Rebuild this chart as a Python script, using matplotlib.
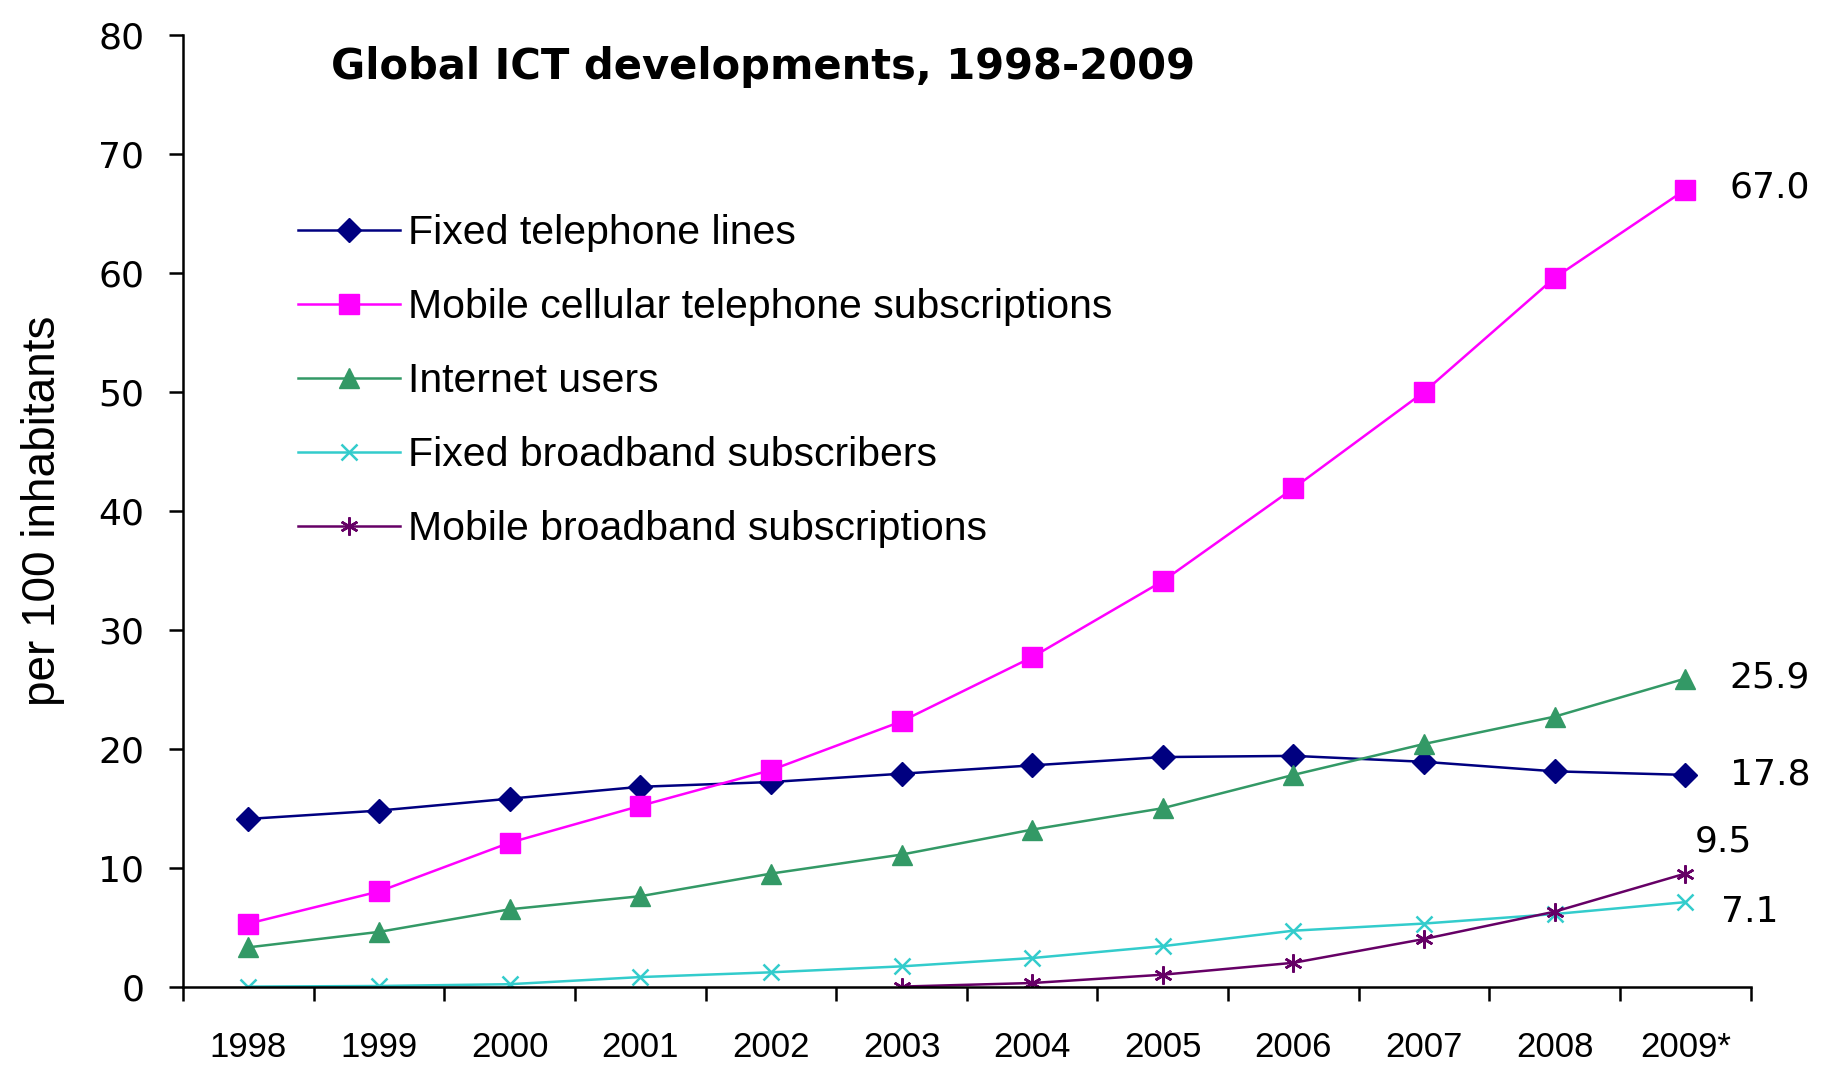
import matplotlib
matplotlib.use('Agg')
import matplotlib.pyplot as plt

# Data (per 100 inhabitants)
years = ['1998', '1999', '2000', '2001', '2002', '2003', '2004', '2005',
         '2006', '2007', '2008', '2009*']
fixed_tel = [14.1, 14.8, 15.8, 16.8, 17.2, 17.9, 18.6, 19.3, 19.4, 18.9, 18.1, 17.8]
mobile_cell = [5.3, 8.0, 12.1, 15.2, 18.2, 22.3, 27.7, 34.1, 41.9, 50.0, 59.6, 67.0]
internet = [3.3, 4.6, 6.5, 7.6, 9.5, 11.1, 13.2, 15.0, 17.8, 20.4, 22.7, 25.9]
fixed_bb = [0.0, 0.05, 0.2, 0.8, 1.2, 1.7, 2.4, 3.4, 4.7, 5.3, 6.1, 7.1]
mobile_bb_years = years[5:]
mobile_bb = [0.0, 0.3, 1.0, 2.0, 4.0, 6.3, 9.5]

end_labels = ['67.0', '25.9', '17.8', '9.5', '7.1']

plt.rcParams['font.family'] = ['Liberation Sans', 'DejaVu Sans']

fig = plt.figure(figsize=(18.3, 10.66), dpi=100)
ax = fig.add_axes([0.1001, 0.0745, 0.8565, 0.8925])

x = list(range(len(years)))
xm = [years.index(y) for y in mobile_bb_years]

ax.plot(x, fixed_tel, color='#000080', lw=1.8, marker='D', ms=12, label='Fixed telephone lines')
ax.plot(x, mobile_cell, color='#FF00FF', lw=1.8, marker='s', ms=14, label='Mobile cellular telephone subscriptions')
ax.plot(x, internet, color='#339966', lw=1.8, marker='^', ms=15, label='Internet users')
ax.plot(x, fixed_bb, color='#33CCCC', lw=1.8, marker='x', ms=11, mew=1.8, label='Fixed broadband subscribers')
ax.plot(xm, mobile_bb, color='#660066', lw=1.8, marker=(6, 2, 0), ms=13, mew=1.8, label='Mobile broadband subscriptions')

# value labels at the right end
lab_kw = dict(fontsize=26, family='DejaVu Sans', va='center', ha='left')
ax.text(11.34, mobile_cell[-1] + 0.2, end_labels[0], **lab_kw)
ax.text(11.34, internet[-1] + 0.1, end_labels[1], **lab_kw)
ax.text(11.34, fixed_tel[-1], end_labels[2], **lab_kw)
ax.text(11.07, mobile_bb[-1] + 2.7, end_labels[3], **lab_kw)
ax.text(11.27, fixed_bb[-1] - 0.8, end_labels[4], **lab_kw)

ax.set_xlim(-0.5, 11.5)
ax.set_ylim(0, 80)
ax.set_yticks(range(0, 81, 10))
ax.set_yticklabels([str(v) for v in range(0, 81, 10)], family='DejaVu Sans')
ax.tick_params(axis='y', labelsize=26, length=10, width=1.8, direction='out', pad=18)

ax.set_xticks(x)
ax.set_xticklabels(years, fontsize=25)
ax.set_xticks([i - 0.5 for i in range(len(years) + 1)], minor=True)
ax.tick_params(axis='x', which='major', length=0, pad=32)
ax.tick_params(axis='x', which='minor', length=10, width=1.8, direction='out')

for s in ['top', 'right']:
    ax.spines[s].set_visible(False)
for s in ['left', 'bottom']:
    ax.spines[s].set_linewidth(1.8)

ax.set_ylabel('per 100 inhabitants', fontsize=33, labelpad=24)

ax.text(0.094, 0.967, 'Global ICT developments, 1998-2009', transform=ax.transAxes,
        fontsize=30, fontweight='bold', family='DejaVu Sans', va='center', ha='left')

ax.legend(loc='upper left', bbox_to_anchor=(0.073, 0.812), frameon=False,
          prop={'size': 29.5}, handlelength=2.5, handletextpad=0.2,
          labelspacing=0.88, borderpad=0, borderaxespad=0)

fig.savefig('out.png', dpi=100)
